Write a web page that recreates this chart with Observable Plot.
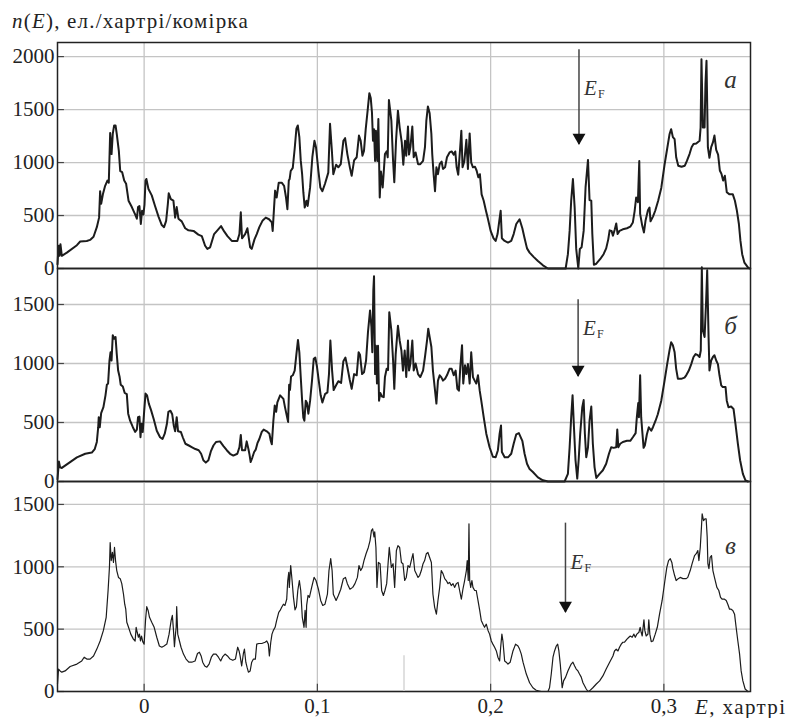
<!DOCTYPE html>
<html>
<head>
<meta charset="utf-8">
<script src="https://cdn.jsdelivr.net/npm/d3@7"></script>
<script src="https://cdn.jsdelivr.net/npm/@observablehq/plot@0.6"></script>
<style>
  body { margin: 0; background: #fff; }
  #fig { position: relative; width: 786px; height: 718px; color: #222;
         font-family: "Liberation Serif", "DejaVu Serif", "Times New Roman", Times, "Noto Serif", serif; }
  #fig svg { position: absolute; left: 0; overflow: visible; }
  #fig svg, #fig svg text {
         font-family: "Liberation Serif", "DejaVu Serif", "Times New Roman", Times, "Noto Serif", serif !important; }
  .ylab { position: absolute; left: 12px; top: 9px; font-size: 21px; letter-spacing: 1.2px; white-space: nowrap; }
  .xlab { position: absolute; left: 695px; top: 695px; font-size: 21px; letter-spacing: 1.4px; white-space: nowrap; }
</style>
</head>
<body>
<div id="fig">
  <div class="ylab"><i>n</i>(<i>E</i>), ел./хартрі/комірка</div>
  <div class="xlab"><i>E</i>, хартрі</div>
</div>
<script>
// Density of states n(E) [electrons / hartree / cell], energies in hartree.
const dosA = [[-0.0500,40],[-0.0494,215],[-0.0488,120],[-0.0483,230],[-0.0475,120],[-0.0446,150],[-0.0388,220],[-0.0369,255],[-0.0331,260],[-0.0312,270],[-0.0292,300],[-0.0273,390],[-0.0260,480],[-0.0254,730],[-0.0248,610],[-0.0238,700],[-0.0225,780],[-0.0212,830],[-0.0204,810],[-0.0196,1280],[-0.0188,1080],[-0.0181,1270],[-0.0173,1350],[-0.0165,1350],[-0.0158,1270],[-0.0146,1110],[-0.0138,920],[-0.0127,910],[-0.0115,830],[-0.0104,800],[-0.0090,640],[-0.0071,580],[-0.0052,510],[-0.0042,470],[-0.0035,580],[-0.0027,590],[-0.0019,420],[-0.0012,545],[-0.0004,510],[0.0002,600],[0.0008,830],[0.0013,845],[0.0025,750],[0.0044,690],[0.0063,590],[0.0083,490],[0.0102,410],[0.0115,390],[0.0127,450],[0.0137,610],[0.0142,710],[0.0154,655],[0.0169,640],[0.0179,480],[0.0188,580],[0.0198,470],[0.0217,445],[0.0237,380],[0.0256,360],[0.0285,355],[0.0313,320],[0.0333,305],[0.0352,215],[0.0365,185],[0.0381,200],[0.0404,325],[0.0423,360],[0.0444,400],[0.0462,350],[0.0481,305],[0.0506,260],[0.0538,260],[0.0550,325],[0.0558,530],[0.0565,285],[0.0583,325],[0.0596,380],[0.0612,200],[0.0621,185],[0.0637,275],[0.0650,325],[0.0665,390],[0.0683,450],[0.0702,480],[0.0721,465],[0.0737,435],[0.0742,355],[0.0750,575],[0.0756,735],[0.0765,670],[0.0777,810],[0.0794,810],[0.0808,780],[0.0819,670],[0.0827,560],[0.0835,830],[0.0840,845],[0.0846,920],[0.0858,950],[0.0869,1130],[0.0879,1320],[0.0887,1350],[0.0896,1240],[0.0904,1020],[0.0912,890],[0.0919,720],[0.0927,575],[0.0937,640],[0.0944,590],[0.0958,765],[0.0971,1050],[0.0983,1205],[0.0992,1145],[0.1006,920],[0.1017,765],[0.1029,730],[0.1044,800],[0.1063,905],[0.1073,1365],[0.1083,1130],[0.1092,890],[0.1108,980],[0.1121,955],[0.1135,985],[0.1150,1205],[0.1160,1230],[0.1173,1080],[0.1188,950],[0.1198,875],[0.1212,1020],[0.1227,1050],[0.1240,1255],[0.1250,1205],[0.1260,1065],[0.1269,1110],[0.1279,1315],[0.1290,1490],[0.1300,1655],[0.1308,1610],[0.1315,1475],[0.1321,1205],[0.1327,1315],[0.1333,1015],[0.1338,1300],[0.1346,1015],[0.1352,1410],[0.1360,670],[0.1367,915],[0.1377,765],[0.1390,1080],[0.1400,1105],[0.1406,1050],[0.1413,1590],[0.1427,1395],[0.1437,1015],[0.1444,815],[0.1454,1205],[0.1465,1490],[0.1475,1330],[0.1487,1190],[0.1496,980],[0.1506,1205],[0.1513,1065],[0.1523,1340],[0.1529,1075],[0.1537,1145],[0.1548,1340],[0.1556,1050],[0.1567,1095],[0.1581,985],[0.1594,985],[0.1610,1015],[0.1621,1145],[0.1629,1395],[0.1638,1530],[0.1648,1465],[0.1658,1270],[0.1663,1080],[0.1671,890],[0.1679,730],[0.1687,955],[0.1696,890],[0.1706,985],[0.1717,1010],[0.1725,940],[0.1737,955],[0.1748,1050],[0.1763,1095],[0.1775,1105],[0.1787,1075],[0.1796,1105],[0.1804,955],[0.1813,885],[0.1823,1110],[0.1831,1300],[0.1838,955],[0.1848,1010],[0.1860,1215],[0.1869,940],[0.1879,1275],[0.1888,1000],[0.1898,955],[0.1910,960],[0.1919,925],[0.1929,860],[0.1938,890],[0.1948,700],[0.1960,640],[0.1971,560],[0.1985,465],[0.2000,355],[0.2017,285],[0.2029,260],[0.2040,325],[0.2050,450],[0.2058,545],[0.2065,285],[0.2081,260],[0.2100,245],[0.2119,260],[0.2133,325],[0.2148,420],[0.2167,465],[0.2183,380],[0.2196,285],[0.2210,190],[0.2225,150],[0.2248,110],[0.2273,70],[0.2302,30],[0.2331,0],[0.2433,0],[0.2446,135],[0.2456,355],[0.2465,640],[0.2475,845],[0.2485,575],[0.2494,185],[0.2506,0],[0.2515,185],[0.2525,200],[0.2537,355],[0.2548,765],[0.2562,1025],[0.2571,645],[0.2581,640],[0.2587,325],[0.2596,35],[0.2610,45],[0.2633,90],[0.2652,135],[0.2667,190],[0.2679,275],[0.2687,360],[0.2698,355],[0.2706,310],[0.2717,370],[0.2725,425],[0.2733,325],[0.2744,355],[0.2763,370],[0.2787,380],[0.2806,395],[0.2821,435],[0.2831,540],[0.2840,670],[0.2850,625],[0.2858,1015],[0.2863,515],[0.2875,405],[0.2885,340],[0.2894,450],[0.2908,550],[0.2917,575],[0.2923,445],[0.2937,490],[0.2950,545],[0.2967,640],[0.2985,760],[0.3004,980],[0.3019,1130],[0.3033,1270],[0.3042,1315],[0.3052,1240],[0.3062,1220],[0.3071,1050],[0.3083,970],[0.3102,960],[0.3121,970],[0.3133,1015],[0.3148,1080],[0.3160,1145],[0.3171,1175],[0.3187,1180],[0.3206,1205],[0.3212,1330],[0.3217,1975],[0.3225,1330],[0.3235,1330],[0.3240,1740],[0.3246,1960],[0.3254,1145],[0.3263,1045],[0.3273,1145],[0.3283,1190],[0.3292,1255],[0.3302,1120],[0.3313,1075],[0.3323,925],[0.3333,890],[0.3342,830],[0.3352,875],[0.3363,720],[0.3379,700],[0.3398,700],[0.3410,640],[0.3421,550],[0.3433,420],[0.3442,260],[0.3452,135],[0.3465,55],[0.3485,10],[0.3494,0]];

const dosB = [[-0.0500,20],[-0.0492,170],[-0.0485,120],[-0.0475,115],[-0.0446,145],[-0.0388,205],[-0.0340,235],[-0.0302,245],[-0.0285,275],[-0.0273,335],[-0.0265,460],[-0.0262,545],[-0.0256,460],[-0.0248,580],[-0.0235,630],[-0.0223,730],[-0.0215,820],[-0.0208,830],[-0.0200,1025],[-0.0194,1095],[-0.0188,1025],[-0.0181,1240],[-0.0173,1210],[-0.0165,1225],[-0.0158,1080],[-0.0150,940],[-0.0142,890],[-0.0135,820],[-0.0123,805],[-0.0112,750],[-0.0100,740],[-0.0092,575],[-0.0081,515],[-0.0065,460],[-0.0052,420],[-0.0042,440],[-0.0035,545],[-0.0027,550],[-0.0021,375],[-0.0015,490],[-0.0008,420],[0.0000,590],[0.0008,745],[0.0017,730],[0.0027,660],[0.0040,605],[0.0056,525],[0.0073,430],[0.0092,375],[0.0106,360],[0.0119,405],[0.0131,485],[0.0140,590],[0.0152,600],[0.0162,570],[0.0171,475],[0.0179,425],[0.0188,545],[0.0196,425],[0.0212,420],[0.0223,375],[0.0238,320],[0.0258,305],[0.0277,290],[0.0296,275],[0.0315,265],[0.0329,235],[0.0342,180],[0.0356,160],[0.0371,180],[0.0385,255],[0.0400,305],[0.0415,335],[0.0438,340],[0.0458,300],[0.0477,265],[0.0496,235],[0.0515,220],[0.0538,235],[0.0550,290],[0.0558,395],[0.0565,265],[0.0583,265],[0.0592,340],[0.0602,275],[0.0608,230],[0.0615,165],[0.0625,205],[0.0635,250],[0.0644,270],[0.0654,325],[0.0665,360],[0.0679,420],[0.0690,440],[0.0708,425],[0.0723,405],[0.0731,345],[0.0737,315],[0.0746,515],[0.0754,645],[0.0762,590],[0.0769,670],[0.0785,730],[0.0804,700],[0.0813,630],[0.0823,560],[0.0831,505],[0.0837,820],[0.0842,775],[0.0848,890],[0.0858,900],[0.0869,940],[0.0879,1080],[0.0888,1200],[0.0896,1095],[0.0904,885],[0.0912,685],[0.0919,540],[0.0925,515],[0.0933,685],[0.0940,665],[0.0948,575],[0.0958,685],[0.0969,855],[0.0979,1040],[0.0988,1050],[0.0998,970],[0.1008,855],[0.1019,730],[0.1029,670],[0.1044,740],[0.1058,755],[0.1067,910],[0.1075,1195],[0.1085,940],[0.1094,775],[0.1108,815],[0.1121,850],[0.1137,835],[0.1150,1020],[0.1162,1050],[0.1173,970],[0.1187,860],[0.1198,785],[0.1212,910],[0.1227,900],[0.1238,1095],[0.1246,1075],[0.1258,910],[0.1269,925],[0.1281,1025],[0.1292,1265],[0.1304,1450],[0.1312,1310],[0.1317,1095],[0.1323,1620],[0.1327,1740],[0.1333,910],[0.1338,1150],[0.1344,830],[0.1350,1150],[0.1356,685],[0.1363,750],[0.1373,720],[0.1383,715],[0.1390,885],[0.1400,955],[0.1408,945],[0.1415,1435],[0.1427,1280],[0.1437,1025],[0.1444,785],[0.1452,1080],[0.1465,1320],[0.1475,1195],[0.1485,1110],[0.1494,940],[0.1504,1110],[0.1513,885],[0.1523,1195],[0.1529,940],[0.1537,1000],[0.1548,1195],[0.1556,940],[0.1567,1000],[0.1581,910],[0.1594,885],[0.1610,940],[0.1621,1055],[0.1633,1195],[0.1640,1295],[0.1648,1225],[0.1658,1140],[0.1667,940],[0.1677,800],[0.1687,660],[0.1696,855],[0.1706,900],[0.1715,885],[0.1725,855],[0.1737,870],[0.1748,900],[0.1763,955],[0.1775,955],[0.1787,900],[0.1798,940],[0.1808,785],[0.1817,770],[0.1825,970],[0.1835,1155],[0.1842,830],[0.1852,985],[0.1860,910],[0.1869,995],[0.1879,830],[0.1888,1095],[0.1898,885],[0.1908,855],[0.1917,830],[0.1927,900],[0.1937,770],[0.1946,685],[0.1960,545],[0.1975,405],[0.1994,290],[0.2013,210],[0.2029,205],[0.2042,265],[0.2052,405],[0.2060,475],[0.2065,250],[0.2081,205],[0.2100,205],[0.2119,235],[0.2133,320],[0.2148,400],[0.2163,410],[0.2183,345],[0.2196,235],[0.2210,150],[0.2225,105],[0.2244,80],[0.2273,35],[0.2302,10],[0.2331,0],[0.2427,0],[0.2446,65],[0.2456,290],[0.2465,545],[0.2473,730],[0.2481,460],[0.2490,180],[0.2500,25],[0.2508,180],[0.2517,405],[0.2529,630],[0.2537,690],[0.2544,405],[0.2552,205],[0.2562,290],[0.2571,515],[0.2581,635],[0.2590,320],[0.2600,120],[0.2610,30],[0.2629,65],[0.2648,95],[0.2667,150],[0.2683,235],[0.2696,290],[0.2710,285],[0.2725,290],[0.2731,440],[0.2737,290],[0.2748,320],[0.2763,335],[0.2787,345],[0.2806,345],[0.2821,375],[0.2837,410],[0.2844,545],[0.2852,665],[0.2856,545],[0.2863,900],[0.2869,545],[0.2875,430],[0.2883,285],[0.2890,305],[0.2902,400],[0.2913,460],[0.2927,430],[0.2937,460],[0.2952,515],[0.2965,570],[0.2985,685],[0.3004,855],[0.3019,995],[0.3033,1115],[0.3042,1180],[0.3052,1155],[0.3062,1095],[0.3071,955],[0.3081,870],[0.3100,870],[0.3119,880],[0.3129,900],[0.3144,940],[0.3158,995],[0.3171,1055],[0.3183,1080],[0.3196,1070],[0.3206,1055],[0.3213,1110],[0.3219,1815],[0.3225,1280],[0.3235,1225],[0.3244,1535],[0.3250,1790],[0.3258,1225],[0.3263,940],[0.3273,1025],[0.3283,1055],[0.3292,1070],[0.3302,1025],[0.3312,995],[0.3321,900],[0.3331,815],[0.3340,800],[0.3356,800],[0.3363,685],[0.3373,630],[0.3388,635],[0.3402,615],[0.3413,490],[0.3427,320],[0.3440,180],[0.3456,65],[0.3471,10],[0.3485,0]];

const dosC = [[-0.0500,60],[-0.0494,180],[-0.0485,165],[-0.0475,155],[-0.0456,165],[-0.0427,200],[-0.0388,220],[-0.0360,245],[-0.0346,275],[-0.0331,260],[-0.0312,260],[-0.0292,285],[-0.0273,340],[-0.0254,405],[-0.0235,490],[-0.0219,595],[-0.0208,810],[-0.0200,1000],[-0.0196,1195],[-0.0190,1050],[-0.0183,1115],[-0.0177,1035],[-0.0171,1155],[-0.0165,1050],[-0.0158,970],[-0.0148,915],[-0.0138,905],[-0.0129,865],[-0.0119,780],[-0.0112,700],[-0.0106,660],[-0.0100,555],[-0.0090,515],[-0.0077,460],[-0.0062,420],[-0.0052,405],[-0.0046,515],[-0.0040,475],[-0.0033,435],[-0.0027,460],[-0.0021,405],[-0.0015,445],[-0.0008,400],[0.0000,380],[0.0008,570],[0.0015,680],[0.0023,650],[0.0031,595],[0.0044,555],[0.0058,515],[0.0073,435],[0.0088,365],[0.0102,355],[0.0115,365],[0.0131,380],[0.0144,460],[0.0156,570],[0.0163,610],[0.0169,500],[0.0175,360],[0.0181,460],[0.0185,515],[0.0188,680],[0.0194,460],[0.0204,405],[0.0213,355],[0.0227,300],[0.0242,260],[0.0258,235],[0.0275,235],[0.0294,245],[0.0308,305],[0.0319,315],[0.0329,285],[0.0338,235],[0.0350,205],[0.0362,195],[0.0375,220],[0.0388,275],[0.0400,300],[0.0415,300],[0.0429,275],[0.0442,245],[0.0454,280],[0.0467,300],[0.0481,285],[0.0496,260],[0.0512,250],[0.0527,260],[0.0540,355],[0.0548,325],[0.0554,285],[0.0563,205],[0.0573,305],[0.0579,340],[0.0587,235],[0.0594,195],[0.0602,155],[0.0612,165],[0.0621,235],[0.0631,260],[0.0642,260],[0.0650,380],[0.0662,385],[0.0679,385],[0.0698,395],[0.0708,405],[0.0717,380],[0.0723,285],[0.0731,395],[0.0738,460],[0.0746,490],[0.0756,515],[0.0765,570],[0.0777,635],[0.0785,650],[0.0794,675],[0.0804,700],[0.0813,690],[0.0823,740],[0.0829,890],[0.0835,955],[0.0838,835],[0.0846,1010],[0.0854,890],[0.0862,755],[0.0871,655],[0.0879,680],[0.0887,810],[0.0896,890],[0.0904,810],[0.0913,595],[0.0923,515],[0.0929,650],[0.0935,515],[0.0938,690],[0.0946,770],[0.0954,755],[0.0967,835],[0.0981,915],[0.0992,890],[0.1006,820],[0.1019,730],[0.1031,690],[0.1044,700],[0.1058,780],[0.1067,970],[0.1077,1065],[0.1085,970],[0.1092,780],[0.1108,730],[0.1121,770],[0.1135,820],[0.1150,905],[0.1162,915],[0.1173,865],[0.1188,820],[0.1204,835],[0.1217,865],[0.1231,915],[0.1240,1010],[0.1250,970],[0.1260,995],[0.1269,1050],[0.1281,1105],[0.1294,1155],[0.1304,1210],[0.1312,1290],[0.1319,1305],[0.1327,1240],[0.1331,1280],[0.1338,1155],[0.1344,835],[0.1352,1035],[0.1362,1025],[0.1371,810],[0.1381,770],[0.1390,810],[0.1400,865],[0.1408,1025],[0.1415,1155],[0.1427,995],[0.1437,1025],[0.1446,835],[0.1456,1130],[0.1465,1170],[0.1475,1155],[0.1485,1035],[0.1494,1025],[0.1504,890],[0.1513,915],[0.1523,1010],[0.1533,995],[0.1542,1050],[0.1552,1105],[0.1562,970],[0.1571,945],[0.1581,915],[0.1590,930],[0.1600,970],[0.1610,1025],[0.1619,1050],[0.1629,1105],[0.1638,1115],[0.1648,1075],[0.1658,1035],[0.1667,780],[0.1677,675],[0.1687,620],[0.1696,730],[0.1706,835],[0.1715,970],[0.1725,945],[0.1735,905],[0.1744,890],[0.1754,865],[0.1763,875],[0.1773,850],[0.1783,865],[0.1792,835],[0.1802,865],[0.1812,875],[0.1821,810],[0.1831,740],[0.1840,820],[0.1850,890],[0.1860,970],[0.1865,1050],[0.1871,890],[0.1875,1345],[0.1879,890],[0.1885,835],[0.1892,890],[0.1898,835],[0.1908,810],[0.1917,810],[0.1927,730],[0.1937,650],[0.1946,570],[0.1956,540],[0.1965,515],[0.1975,540],[0.1985,490],[0.1994,460],[0.2004,405],[0.2013,380],[0.2023,355],[0.2033,325],[0.2042,275],[0.2052,245],[0.2058,355],[0.2065,460],[0.2071,405],[0.2081,245],[0.2090,235],[0.2100,220],[0.2113,235],[0.2129,325],[0.2144,380],[0.2158,365],[0.2167,340],[0.2177,300],[0.2187,235],[0.2206,140],[0.2225,70],[0.2244,30],[0.2263,10],[0.2292,0],[0.2331,0],[0.2340,30],[0.2350,140],[0.2360,275],[0.2369,325],[0.2379,365],[0.2387,380],[0.2394,325],[0.2402,220],[0.2408,115],[0.2413,30],[0.2421,85],[0.2433,115],[0.2446,165],[0.2456,195],[0.2465,220],[0.2475,235],[0.2485,205],[0.2494,180],[0.2504,165],[0.2513,140],[0.2523,115],[0.2533,70],[0.2552,20],[0.2562,0],[0.2571,5],[0.2590,30],[0.2610,60],[0.2629,85],[0.2648,125],[0.2667,180],[0.2687,235],[0.2706,285],[0.2715,325],[0.2725,340],[0.2735,325],[0.2744,355],[0.2754,380],[0.2763,395],[0.2773,395],[0.2787,420],[0.2798,435],[0.2806,445],[0.2817,435],[0.2827,460],[0.2835,435],[0.2844,460],[0.2856,475],[0.2863,515],[0.2869,475],[0.2875,445],[0.2879,500],[0.2885,575],[0.2890,490],[0.2898,445],[0.2908,460],[0.2913,575],[0.2919,460],[0.2927,400],[0.2937,405],[0.2950,460],[0.2962,515],[0.2975,620],[0.2990,730],[0.3006,890],[0.3017,995],[0.3027,1050],[0.3037,1065],[0.3046,1035],[0.3052,985],[0.3062,930],[0.3071,890],[0.3083,905],[0.3094,915],[0.3110,905],[0.3129,905],[0.3138,915],[0.3152,970],[0.3163,1025],[0.3177,1090],[0.3187,1105],[0.3196,1130],[0.3202,1050],[0.3210,1155],[0.3217,1320],[0.3221,1425],[0.3229,1370],[0.3237,1385],[0.3244,1385],[0.3250,1240],[0.3254,1025],[0.3260,985],[0.3267,1075],[0.3275,1090],[0.3283,970],[0.3292,915],[0.3306,835],[0.3317,810],[0.3327,755],[0.3337,740],[0.3350,740],[0.3360,730],[0.3369,700],[0.3379,660],[0.3388,660],[0.3398,650],[0.3408,620],[0.3417,515],[0.3427,405],[0.3437,300],[0.3446,165],[0.3456,85],[0.3469,20],[0.3485,0]];

// Axis ticks
const energyTicks = [0, 0.1, 0.2, 0.3];
const dosTicksA = [0, 500, 1000, 1500, 2000];
const dosTicksB = [0, 500, 1000, 1500];
const dosTicksC = [0, 500, 1000, 1500];

// Panel letters and Fermi levels (hartree)
const panelLetters = ["а", "б", "в"];
const fermiLevels = [0.251, 0.2505, 0.2432];
const arrowStart = [2065, 1540, 1350];
const arrowEnd = [1170, 890, 634];

const xDomain = [-0.05, 0.35];
const serif = '"Liberation Serif", "DejaVu Serif", "Times New Roman", Times, "Noto Serif", serif';
const fmtE = d => d === 0 ? "0" : d.toFixed(1).replace(".", ",");
const fmtN = d => String(d);
const gridColor = "#c4c4c4";
const ink = "#1c1c1c";

function panel({data, top, height, yMax, yTicks, i, letterDy, labelDy, lineWidth, bottomAxis}) {
  const mb = bottomAxis ? 27 : 0;
  const x0 = xDomain[0];
  const marks = [
    Plot.gridX(energyTicks, {stroke: gridColor, strokeOpacity: 1, strokeWidth: 1.3}),
    Plot.gridY(yTicks, {stroke: gridColor, strokeOpacity: 1, strokeWidth: 1.3}),
    Plot.ruleY(yTicks, {x1: x0, x2: x0 + 0.004, stroke: "#444", strokeWidth: 1.2}),
    Plot.axisY(yTicks, {tickSize: 0, tickPadding: 3, label: null, tickFormat: fmtN, fontSize: 21, fontFamily: serif}),
    Plot.line(data, {x: d => d[0], y: d => d[1], stroke: ink, strokeWidth: lineWidth, strokeLinejoin: "round"}),
    Plot.ruleX([fermiLevels[i]], {x: d => d, y1: arrowStart[i], y2: arrowEnd[i], stroke: "#444", strokeWidth: 1.5}),
    Plot.dot([fermiLevels[i]], {x: d => d, y: arrowEnd[i], symbol: "triangle", r: 4.8, rotate: 180, fill: "#111", stroke: null, dy: -7}),
    Plot.text([fermiLevels[i]], {x: d => d, frameAnchor: "top", lineAnchor: "middle", textAnchor: "start", dx: 5, dy: labelDy, text: () => "E", fontStyle: "italic", fontSize: 21, fontFamily: serif, fill: "#333"}),
    Plot.text([fermiLevels[i]], {x: d => d, frameAnchor: "top", lineAnchor: "middle", textAnchor: "start", dx: 19, dy: labelDy + 6, text: () => "F", fontSize: 12, fontFamily: serif, fill: "#333"}),
    Plot.text([panelLetters[i]], {frameAnchor: "top-right", lineAnchor: "middle", textAnchor: "middle", dx: -20, dy: letterDy, text: d => d, fontStyle: "italic", fontSize: 25, fontFamily: serif, fill: "#333"}),
    Plot.frame({stroke: "#222", strokeWidth: 1.5})
  ];
  if (bottomAxis) {
    marks.push(
      Plot.ruleX(energyTicks, {x: d => d, y1: 0, y2: yMax * 0.035, stroke: "#444", strokeWidth: 1.2}),
      Plot.ruleX([0.15], {x: d => d, y1: 0, y2: yMax * 0.17, stroke: "#d6d6d6", strokeWidth: 1.5}),
      Plot.axisX(energyTicks, {tickSize: 0, tickPadding: 7, tickFormat: fmtE, label: null, fontSize: 21, fontFamily: serif})
    );
  }
  const svg = Plot.plot({
    width: 786,
    height: height + mb,
    marginLeft: 57,
    marginRight: 36,
    marginTop: 0,
    marginBottom: mb,
    x: {domain: xDomain, axis: bottomAxis ? undefined : null},
    y: {domain: [0, yMax]},
    style: {fontFamily: serif, fontSize: "21px", color: "#222", background: "transparent", overflow: "visible"},
    marks
  });
  svg.style.top = top + "px";
  return svg;
}

const fig = document.getElementById("fig");
fig.append(
  panel({data: dosA, top: 42, height: 226, yMax: 2133, yTicks: dosTicksA, i: 0, letterDy: 37, labelDy: 46, lineWidth: 2, bottomAxis: false}),
  panel({data: dosB, top: 268, height: 213, yMax: 1805, yTicks: dosTicksB, i: 1, letterDy: 57, labelDy: 60, lineWidth: 2, bottomAxis: false}),
  panel({data: dosC, top: 481, height: 210, yMax: 1684, yTicks: dosTicksC, i: 2, letterDy: 64, labelDy: 81, lineWidth: 1.2, bottomAxis: true})
);
</script>
</body>
</html>
